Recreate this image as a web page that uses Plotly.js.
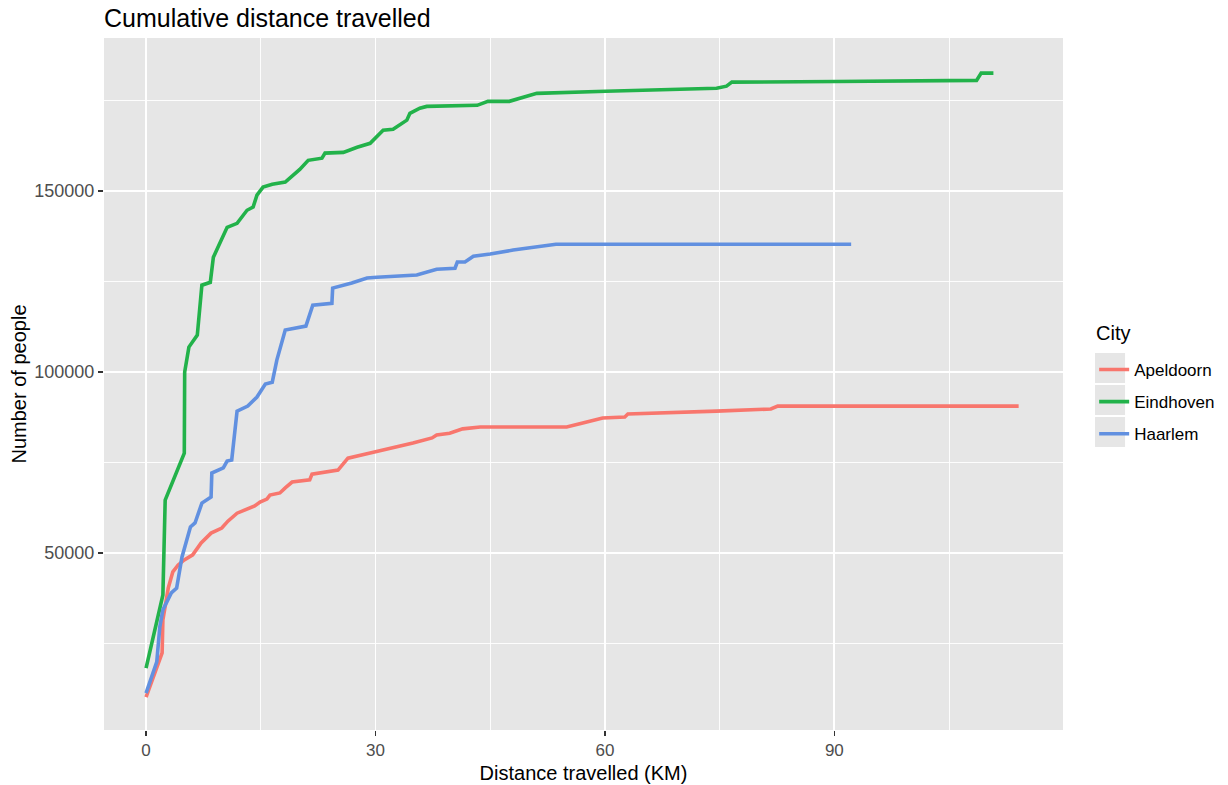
<!DOCTYPE html>
<html>
<head>
<meta charset="utf-8">
<script src="https://cdn.plot.ly/plotly-3.0.1.min.js"></script>
<style>html,body{margin:0;padding:0;background:#fff;}#chart{width:1228px;height:785px;}</style>
</head>
<body>
<div id="chart"></div>
<script>
// Cities
const cities = ["Apeldoorn", "Eindhoven", "Haarlem"];
const legendTitle = "City";

// Apeldoorn
const apeldoornX = [0, 1.2, 2.1, 2.2, 2.9, 3.5, 4.2, 5.0, 6.1, 7.2, 8.5, 9.9, 10.7, 11.9, 14.2, 14.9, 15.8, 16.2, 17.5, 18.2, 19.1, 21.4, 21.7, 25.1, 25.6, 26.4, 28.6, 31.5, 33.6, 34.9, 37.4, 38.0, 39.7, 40.4, 41.4, 43.7, 55.0, 57.1, 59.7, 62.6, 63.0, 74.6, 81.7, 82.6, 114.1];
const apeldoornY = [10200, 16900, 22400, 31500, 40300, 44800, 46700, 48100, 49500, 52800, 55500, 56900, 58800, 61000, 63000, 64100, 64900, 66000, 66600, 68000, 69600, 70200, 71800, 72900, 74300, 76200, 77300, 78700, 79600, 80400, 81800, 82600, 83100, 83700, 84300, 84800, 84800, 85900, 87300, 87600, 88400, 89200, 89800, 90600, 90600];

// Eindhoven
const eindhovenX = [0, 2.2, 2.5, 5.0, 5.05, 5.6, 6.7, 7.3, 8.4, 8.8, 9.4, 10.6, 11.9, 13.2, 14.0, 14.5, 15.3, 16.5, 18.2, 20.1, 21.2, 23.0, 23.4, 25.8, 27.6, 29.3, 31.0, 32.3, 34.1, 34.5, 35.8, 36.7, 43.3, 44.7, 47.5, 51.1, 60.1, 74.6, 75.9, 76.6, 90.2, 108.6, 109.2, 110.8];
const eindhovenY = [18200, 38400, 64600, 77600, 100000, 106900, 110200, 124000, 124800, 131700, 134500, 140000, 141100, 144700, 145600, 148900, 151100, 151900, 152500, 156000, 158500, 159100, 160500, 160700, 162100, 163200, 166800, 167100, 169600, 171500, 172900, 173400, 173700, 174800, 174800, 177000, 177600, 178400, 179000, 180100, 180300, 180600, 182600, 182600];

// Haarlem
const haarlemX = [0, 1.4, 1.8, 2.2, 3.3, 4.0, 4.7, 5.8, 6.4, 7.3, 8.5, 8.6, 10.1, 10.6, 11.2, 11.9, 13.3, 14.5, 15.6, 16.5, 17.1, 18.2, 20.9, 21.4, 21.8, 24.3, 24.4, 26.9, 28.9, 30.2, 35.4, 38.0, 40.4, 40.7, 41.7, 42.8, 45.0, 48.0, 50.6, 53.6, 92.2];
const haarlemY = [11300, 19900, 29600, 34300, 39000, 40300, 48900, 57200, 58300, 63800, 65500, 72100, 73500, 75400, 75700, 89200, 90600, 93100, 96700, 97200, 103300, 111600, 112700, 115700, 118500, 119000, 123200, 124600, 126000, 126200, 126800, 128400, 128700, 130400, 130400, 132000, 132600, 133700, 134500, 135300, 135300];

// Tick labels
const xTicks = [0, 30, 60, 90];
const yTicks = [50000, 100000, 150000];
const yTickLabels = ["50000", "100000", "150000"];

const colors = ["#F8766D", "#22B24A", "#6190E0"];
const xs = [apeldoornX, eindhovenX, haarlemX];
const ys = [apeldoornY, eindhovenY, haarlemY];

const FONT = "Liberation Sans, Arial, sans-serif";

const traces = cities.map((c, i) => ({
  type: "scatter",
  mode: "lines",
  name: c,
  legendgroup: c,
  x: xs[i],
  y: ys[i],
  line: {color: colors[i], width: 3.6},
  hoverinfo: "x+y+name"
}));

const panel = "#E6E6E6";

const layout = {
  width: 1228,
  height: 785,
  paper_bgcolor: "#FFFFFF",
  plot_bgcolor: panel,
  margin: {l: 104, r: 165, t: 38, b: 55, autoexpand: false},
  font: {family: FONT, color: "#000"},
  title: {
    text: "Cumulative distance travelled",
    font: {family: FONT, size: 25, color: "#000"},
    xref: "paper", x: 0, xanchor: "left",
    yref: "container", y: 0.977, yanchor: "middle"
  },
  xaxis: {
    range: [-5.5, 119.9],
    tickvals: xTicks,
    ticks: "outside", ticklen: 5, tickwidth: 1.2, tickcolor: "#333333",
    tickfont: {family: FONT, size: 17, color: "#4D4D4D"},
    showgrid: true, gridcolor: "#FFFFFF", gridwidth: 1.8,
    minor: {dtick: 15, tick0: 0, showgrid: true, gridcolor: "#FFFFFF", gridwidth: 0.9, ticks: ""},
    zeroline: false, showline: false,
    title: {text: "Distance travelled (KM)", font: {family: FONT, size: 20, color: "#000"}, standoff: 6},
    automargin: false
  },
  yaxis: {
    range: [1100, 192300],
    tickvals: yTicks,
    ticktext: yTickLabels,
    ticks: "outside", ticklen: 5, tickwidth: 1.2, tickcolor: "#333333",
    tickfont: {family: FONT, size: 18, color: "#4D4D4D"},
    showgrid: true, gridcolor: "#FFFFFF", gridwidth: 1.8,
    minor: {dtick: 25000, tick0: 0, showgrid: true, gridcolor: "#FFFFFF", gridwidth: 0.9, ticks: ""},
    zeroline: false, showline: false,
    title: {text: "Number of people", font: {family: FONT, size: 20, color: "#000"}, standoff: 2},
    automargin: false
  },
  legend: {
    font: {family: FONT, size: 17, color: "#000"},
    x: 1.0325, xanchor: "left",
    y: 0.5463, yanchor: "top",
    traceorder: "grouped",
    tracegroupgap: 7,
    itemwidth: 30,
    bgcolor: "rgba(0,0,0,0)",
    borderwidth: 0
  },
  annotations: [{
    text: legendTitle, xref: "paper", yref: "paper",
    x: 1.0323, xanchor: "left", y: 0.5737, yanchor: "middle",
    showarrow: false, font: {family: FONT, size: 20, color: "#000"}
  }],
  shapes: [0, 1, 2].map(i => ({
    type: "rect", xref: "paper", yref: "paper", layer: "below",
    x0: 1.0334, x1: 1.0647,
    y0: [0.5014, 0.4552, 0.4090][i], y1: [0.5448, 0.4986, 0.4523][i],
    fillcolor: panel, line: {width: 0}
  })),
  showlegend: true
};

Plotly.newPlot("chart", traces, layout, {displayModeBar: false, staticPlot: true});
</script>
</body>
</html>
